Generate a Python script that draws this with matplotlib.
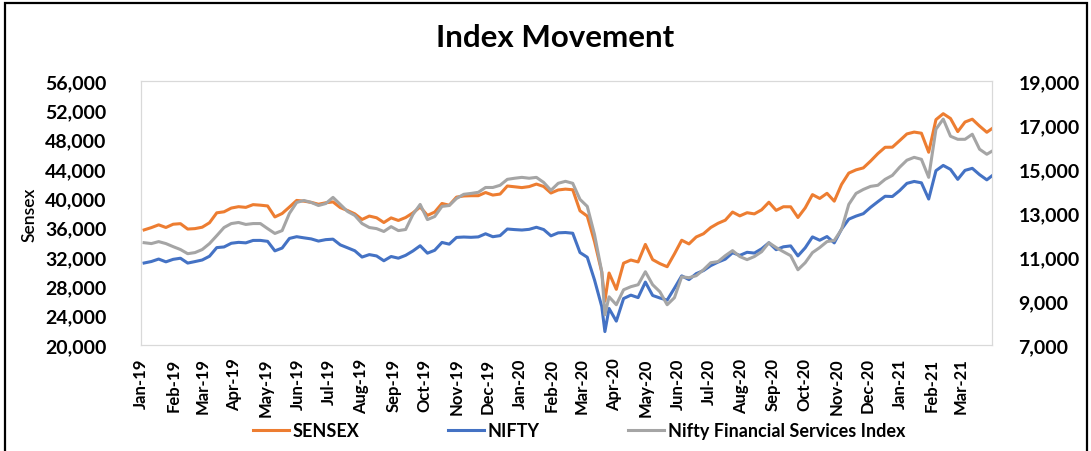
import matplotlib
matplotlib.use("Agg")
import matplotlib.pyplot as plt
import matplotlib.dates as mdates
from matplotlib.ticker import FuncFormatter
from matplotlib.patches import Rectangle
import pandas as pd

# weekly closes (Fridays) + the 23-Mar-2020 bottom and the 31-Mar-2021 close
weekly = pd.date_range("2019-01-04", "2021-03-26", freq="W-FRI")
dates = weekly.append(pd.DatetimeIndex(["2020-03-23", "2021-03-31"])).sort_values()

sensex = [
    35695, 36010, 36387, 36025, 36469, 36546, 35809, 35871, 36064, 36671,
    38024, 38164, 38673, 38862, 38767, 39140, 39067, 38963, 37463, 37931,
    38811, 39714, 39615, 39452, 39194, 39395, 39513, 38736, 38337, 37882,
    37118, 37582, 37350, 36701, 37332, 36982, 37385, 38015, 38823, 37673,
    38127, 39298, 39058, 40165, 40323, 40357, 40359, 40794, 40445, 40581,
    41681, 41575,
    # 2020
    41464, 41600, 41945, 41613, 40723, 41141, 41257, 41170, 38297, 37577,
    34103, 29916, 25981, 29816, 27591, 31160, 31589, 31327, 33718, 31643,
    31097, 30673, 32424, 34287, 33781, 34732, 35171, 36021, 36594, 37020,
    38129, 37607, 38040, 37877, 38434, 39467, 38357, 38854, 38845, 37388,
    38697, 40509, 39983, 40686, 39614, 41893, 43443, 43882, 44150, 45080,
    46099, 46961, 46974, 47868,
    # 2021
    48782, 49035, 48879, 46286, 50732, 51544, 50890, 49100, 50406, 50792,
    49858, 49008, 49509,
]

nifty = [
    10727, 10795, 10907, 10780, 10894, 10944, 10724, 10792, 10864, 11035,
    11427, 11457, 11624, 11666, 11643, 11753, 11755, 11712, 11279, 11407,
    11844, 11923, 11871, 11823, 11724, 11789, 11811, 11552, 11419, 11284,
    10997, 11109, 11048, 10829, 11023, 10946, 11076, 11274, 11512, 11174,
    11305, 11662, 11584, 11890, 11908, 11895, 11914, 12056, 11922, 11971,
    12272, 12246,
    # 2020
    12226, 12257, 12352, 12248, 11962, 12098, 12113, 12080, 11202, 10989,
    9955, 8745, 7610, 8660, 8084, 9112, 9267, 9154, 9860, 9252,
    9137, 9040, 9580, 10142, 9972, 10244, 10383, 10608, 10768, 10902,
    11194, 11073, 11214, 11178, 11372, 11647, 11333, 11464, 11505, 11050,
    11417, 11914, 11762, 11930, 11642, 12264, 12720, 12859, 12969, 13258,
    13514, 13761, 13749, 14018,
    # 2021
    14347, 14434, 14372, 13635, 14924, 15163, 14982, 14529, 14938, 15031,
    14744, 14507, 14691,
]

finserv = [
    11650, 11610, 11700, 11610, 11470, 11340, 11150, 11200, 11340, 11610,
    11970, 12340, 12520, 12570, 12480, 12520, 12520, 12290, 12070, 12200,
    12980, 13480, 13570, 13480, 13340, 13430, 13710, 13390, 13070, 12890,
    12520, 12340, 12290, 12160, 12380, 12200, 12250, 12930, 13390, 12700,
    12840, 13300, 13340, 13660, 13850, 13890, 13940, 14160, 14160, 14260,
    14530, 14580,
    # 2020
    14620, 14580, 14620, 14390, 14030, 14350, 14440, 14350, 13620, 13300,
    12020, 10330, 8370, 9190, 8830, 9510, 9650, 9740, 10330, 9740,
    9420, 8830, 9150, 10100, 10060, 10150, 10420, 10740, 10790, 11060,
    11290, 11020, 10880, 11020, 11240, 11650, 11430, 11240, 11060, 10420,
    10740, 11200, 11430, 11700, 11750, 12250, 13390, 13890, 14070, 14210,
    14260, 14530, 14710, 15080,
    # 2021
    15400, 15530, 15440, 14620, 16810, 17270, 16490, 16350, 16350, 16580,
    15900, 15670, 15810,
]

plt.rcParams["font.family"] = ["Lato", "DejaVu Sans"]
plt.rcParams["font.weight"] = "bold"

W, H = 1091, 452
fig = plt.figure(figsize=(W / 100, H / 100), dpi=100)
ax = fig.add_axes([141 / W, 1 - 346 / H, (992 - 141) / W, (346 - 82) / H])
ax2 = ax.twinx()

l1, = ax.plot(dates, sensex, color="#ED7D31", lw=2.2, label="SENSEX")
l2, = ax2.plot(dates, nifty, color="#4472C4", lw=2.2, label="NIFTY")
l3, = ax2.plot(dates, finserv, color="#A5A5A5", lw=2.2,
               label="Nifty Financial Services Index")

ax.set_xlim(pd.Timestamp("2019-01-01"), pd.Timestamp("2021-03-31"))
ax.set_ylim(20000, 56000)
ax.set_yticks(range(20000, 56001, 4000))
ax2.set_ylim(7000, 19000)
ax2.set_yticks(range(7000, 19001, 2000))

fmt = FuncFormatter(lambda v, p: f"{int(v):,}")
ax.yaxis.set_major_formatter(fmt)
ax2.yaxis.set_major_formatter(fmt)
ax.xaxis.set_major_locator(mdates.MonthLocator())
ax.xaxis.set_major_formatter(mdates.DateFormatter("%b-%y"))

ax.tick_params(axis="x", rotation=90, length=0, pad=9, labelsize=12)
ax.tick_params(axis="y", length=0, pad=25, labelsize=14)
ax2.tick_params(axis="y", length=0, pad=19, labelsize=14)

for a in (ax, ax2):
    for s in a.spines.values():
        s.set_color("#D9D9D9")
        s.set_linewidth(0.8)

fig.text(30 / W, 1 - 215 / H, "Sensex", rotation=90, ha="center", va="center",
         fontsize=12.5, fontweight="semibold")
fig.text(555 / W, 1 - 38 / H, "Index Movement", ha="center", va="center",
         fontsize=22.5, fontweight="bold")

fig.legend([l1, l2, l3], [l.get_label() for l in (l1, l2, l3)],
           loc="center", bbox_to_anchor=(579 / W, 1 - 432 / H), ncol=3,
           frameon=False, fontsize=13, handlelength=2.0, handletextpad=0.2,
           columnspacing=4.9)

fig.add_artist(Rectangle((5 / W, -0.02), (1087 - 5) / W, 1.02 - 4 / H,
                         transform=fig.transFigure, fill=False,
                         edgecolor="black", linewidth=1.6))

fig.savefig("out.png", dpi=100)
